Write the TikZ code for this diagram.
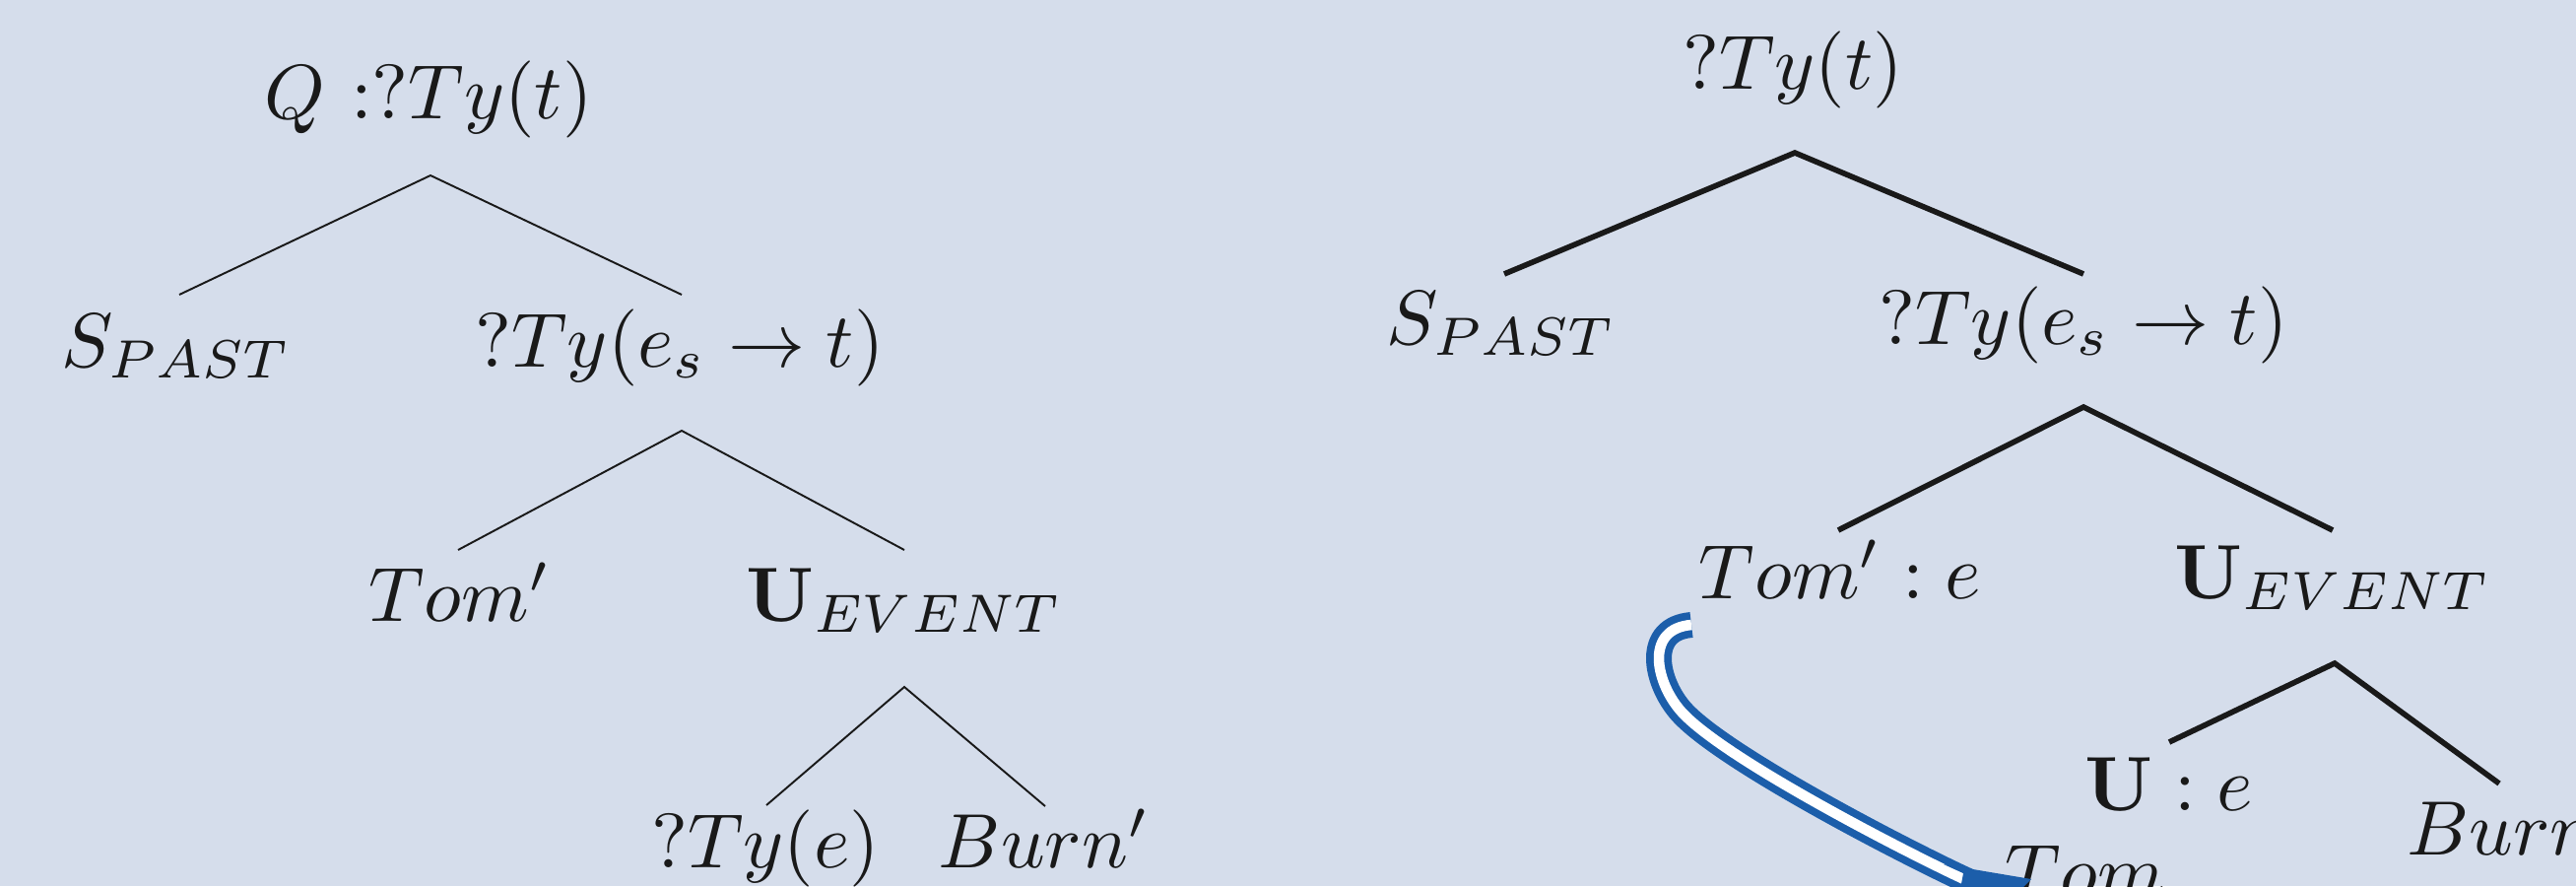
\documentclass[tikz,border=0pt]{standalone}
\usepackage{graphicx}
\usetikzlibrary{calc}
\definecolor{bgc}{RGB}{213,221,235}
\definecolor{ink}{RGB}{25,25,25}
\definecolor{arrblue}{RGB}{28,94,170}
\newcommand{\mth}[1]{\scalebox{4.45}{$#1$}}
\begin{document}
\begin{tikzpicture}[x=0.02cm,y=-0.02cm,
  lbl/.style={inner sep=0pt, anchor=base, text=ink},
  lblw/.style={lbl, anchor=base west},
  branchA/.style={draw=ink, line width=1.1pt},
  branchB/.style={draw=ink, line width=3.2pt},
  dbl/.style={draw=arrblue, line width=4.4pt, double=white, double distance=6pt},
  headfill/.style={fill=arrblue}
]
\useasboundingbox (0,0) rectangle (2615,899);
\fill[bgc] (0,0) rectangle (2615,899);
\clip (0,0) rectangle (2615,899);

% ---------- left tree ----------
\node[lbl] (Lroot) at (435,120) {\mth{Q\ {:}{?}Ty(t)}};
\node[lbl] (Lspast) at (179,372) {\mth{S_{PAST}}};
\node[lbl] (Lpred) at (690,372) {\mth{?Ty(e_s\rightarrow t)}};
\node[lbl] (Ltom) at (467,630) {\mth{Tom'}};
\node[lbl] (Lev) at (918,630) {\mth{\mathbf{U}_{EVENT}}};
\node[lbl] (Lty) at (777,880) {\mth{?Ty(e)}};
\node[lbl] (Lburn) at (1060,880) {\mth{Burn'}};

\coordinate (La1) at (437,178);
\coordinate (La1l) at (182,299);
\coordinate (La1r) at (692,299);
\coordinate (La2) at (692,437);
\coordinate (La2l) at (465,558);
\coordinate (La2r) at (918,558);
\coordinate (La3) at (918,697);
\coordinate (La3l) at (778,817);
\coordinate (La3r) at (1061,818);
\draw[branchA] (La1l) -- (La1) -- (La1r);
\draw[branchA] (La2l) -- (La2) -- (La2r);
\draw[branchA] (La3l) -- (La3) -- (La3r);

% ---------- right tree ----------
\node[lbl] (Rroot) at (1820,90) {\mth{?Ty(t)}};
\node[lbl] (Rspast) at (1524,349) {\mth{S_{PAST}}};
\node[lbl] (Rpred) at (2115,349) {\mth{?Ty(e_s\rightarrow t)}};
\node[lbl] (Rtom) at (1868,607) {\mth{Tom' : e}};
\node[lbl] (Rev) at (2368,607) {\mth{\mathbf{U}_{EVENT}}};
\node[lbl] (Rue) at (2202,822) {\mth{\mathbf{U} : e}};
\node[lblw] (Rburn) at (2443,867) {\mth{Burn}};
\node[lblw] (Rtomcut) at (2035,911) {\mth{Tom}};

\coordinate (Ra1) at (1822,155);
\coordinate (Ra1l) at (1527,278);
\coordinate (Ra1r) at (2115,278);
\coordinate (Ra2) at (2115,413);
\coordinate (Ra2l) at (1866,538);
\coordinate (Ra2r) at (2368,538);
\coordinate (Ra3) at (2370,673);
\coordinate (Ra3l) at (2202,753);
\coordinate (Ra3r) at (2537,795);
\draw[branchB] (Ra1l) -- (Ra1) -- (Ra1r);
\draw[branchB] (Ra2l) -- (Ra2) -- (Ra2r);
\draw[branchB] (Ra3l) -- (Ra3) -- (Ra3r);

% ---------- blue double arrow ----------
\coordinate (src) at (1717,634);
\coordinate (mid) at (1705,720);
\coordinate (ab) at (1998,894);
\coordinate (tip) at (2062,892);
\draw[dbl] (src) .. controls (1670,638) and (1680,690) .. (mid)
  .. controls (1745,768) and (1945,870) .. (ab);
\fill[headfill] (tip) -- ($(tip)+(-89,-15)$) -- ($(tip)+(-69,-6)$)
  -- ($(tip)+(-76,32)$) -- ($(tip)+(-12,12)$) -- cycle;
\end{tikzpicture}
\end{document}
